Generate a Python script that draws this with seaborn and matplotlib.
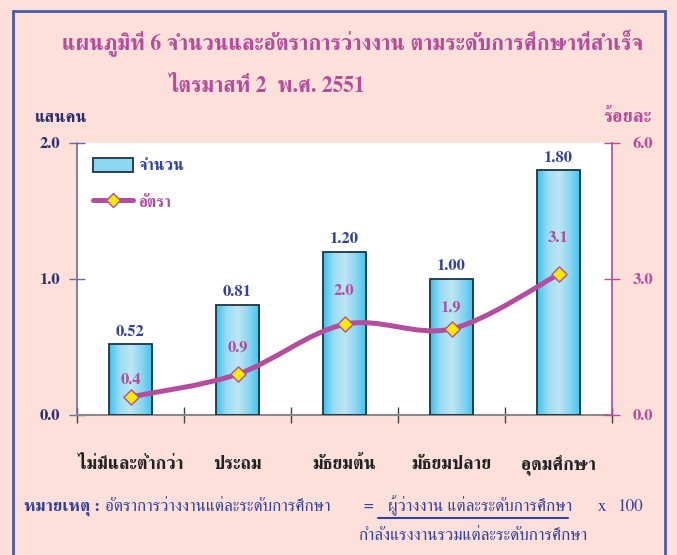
import numpy as np
import matplotlib
matplotlib.use('Agg')
import matplotlib.pyplot as plt
from matplotlib.colors import LinearSegmentedColormap
from matplotlib.path import Path
from matplotlib.patches import PathPatch, Rectangle
from matplotlib.lines import Line2D
import seaborn as sns

# data
levels = ['ไม่มีและต่ำกว่า', 'ประถม', 'มัธยมต้น', 'มัธยมปลาย', 'อุดมศึกษา']
unemployed = [0.52, 0.81, 1.20, 1.00, 1.80]   # แสนคน
rate = [0.4, 0.9, 2.0, 1.9, 3.1]              # ร้อยละ
left_ticks = [0.0, 1.0, 2.0]
right_ticks = [0.0, 3.0, 6.0]

title1 = 'แผนภูมิที่ 6 จำนวนและอัตราการว่างงาน ตามระดับการศึกษาที่สำเร็จ'
title2 = 'ไตรมาสที่ 2  พ.ศ. 2551'
note_head = 'หมายเหตุ :'
note_left = 'อัตราการว่างงานแต่ละระดับการศึกษา'
note_num = 'ผู้ว่างงาน แต่ละระดับการศึกษา'
note_den = 'กำลังแรงงานรวมแต่ละระดับการศึกษา'

NAVY = '#33429a'
DARKNAVY = '#2a2f6e'
PURPLE = '#b44d9d'
BG = '#fde0da'
W, H = 677, 555

sns.set_theme(style='white')
plt.rcParams['font.family'] = ['FreeSerif', 'Liberation Serif', 'DejaVu Sans']

fig, ax = plt.subplots(figsize=(W / 100, H / 100), dpi=100)
fig.patch.set_facecolor(BG)
renderer = fig.canvas.get_renderer()


def text_width(s, size, weight='normal'):
    t = fig.text(0, 0, s, fontsize=size, fontweight=weight)
    w = t.get_window_extent(renderer).width
    t.remove()
    return w


def fit_size(s, width_px, weight='normal'):
    return 10 * width_px / text_width(s, 10, weight)


def fx(px):
    return px / W


def fy(px):
    return 1 - px / H


pos = [fx(77), fy(415), fx(612) - fx(77), fy(143) - fy(415)]
ax.set_position(pos)
ax.set_facecolor('white')

sns.barplot(x=levels, y=unemployed, ax=ax, width=0.41, color='#8fd8f2', saturation=1,
            edgecolor='#1e3440', linewidth=1.3, zorder=3)

# gradient fill inside the bars
grad = np.linspace(0, 1, 256).reshape(1, -1)
cmap = LinearSegmentedColormap.from_list('bar', ['#3ec2ee', '#9ddcf2', '#bde6f3', '#8ad6f1', '#36c5f4'])
for p in ax.patches:
    x0, w, h = p.get_x(), p.get_width(), p.get_height()
    im = ax.imshow(grad, cmap=cmap, extent=[x0, x0 + w, 0, h], aspect='auto', zorder=2.5)
    im.set_clip_path(p)
    p.set_facecolor('none')

ax.set_xlim(-0.5, 4.5)
ax.set_ylim(0, 2)
ax.bar_label(ax.containers[0], labels=[f'{v:.2f}' for v in unemployed], padding=4,
             color=NAVY, fontsize=12, fontweight='bold')

ax.set_yticks(left_ticks)
ax.set_yticklabels([f'{v:.1f}' for v in left_ticks], fontweight='bold')
ax.tick_params(axis='y', direction='inout', length=12, width=1, color='#6a6aa0', pad=6,
               labelcolor=DARKNAVY, labelsize=12, left=True)

xfs = fit_size(levels[0], 106, 'bold')
ax.set_xticks(range(len(levels)))
ax.set_xticklabels(levels, fontweight='bold', color='#222222', fontsize=xfs, va='baseline')
ax.tick_params(axis='x', which='major', length=0, pad=39)
ax.set_xticks(np.arange(-0.5, len(levels), 1), minor=True)
ax.tick_params(axis='x', which='minor', direction='inout', length=12, width=1, color='#444444', bottom=True)
ax.set_xlabel('')
ax.set_ylabel('')
for s in ['top', 'right']:
    ax.spines[s].set_visible(False)
ax.spines['left'].set_color('#7070a8')
ax.spines['bottom'].set_color('#8a8a8a')
ax.spines['bottom'].set_linewidth(1.5)

# rate on the right axis, smoothed line
ax2 = ax.twinx()
ax2.set_position(pos)
ax2.set_xlim(-0.5, 4.5)
ax2.set_ylim(0, 6)
xs = np.arange(len(rate), dtype=float)
ys = np.asarray(rate, dtype=float)
verts = [(xs[0], ys[0])]
codes = [Path.MOVETO]
for i in range(len(xs) - 1):
    a = max(i - 1, 0)
    b = min(i + 2, len(xs) - 1)
    c1 = (xs[i] + (xs[i + 1] - xs[a]) / 6, ys[i] + (ys[i + 1] - ys[a]) / 6)
    c2 = (xs[i + 1] - (xs[b] - xs[i]) / 6, ys[i + 1] - (ys[b] - ys[i]) / 6)
    verts += [c1, c2, (xs[i + 1], ys[i + 1])]
    codes += [Path.CURVE4] * 3
ax2.add_patch(PathPatch(Path(verts, codes), facecolor='none', edgecolor=PURPLE, lw=3.6,
                        capstyle='round', zorder=3))
sns.scatterplot(x=xs, y=ys, ax=ax2, marker='D', s=60, color='#f7ea00', edgecolor=PURPLE,
                linewidth=1, zorder=4)
rate_dy = [12, 19, 24, 15, 26]
for i, v in enumerate(rate):
    ax2.annotate(f'{v:.1f}', (i, v), xytext=(0, rate_dy[i]), textcoords='offset points',
                 ha='center', va='center', color=PURPLE, fontsize=12, fontweight='bold')

ax2.set_yticks(right_ticks)
ax2.set_yticklabels([f'{v:.1f}' for v in right_ticks], fontweight='bold')
ax2.tick_params(axis='y', direction='inout', length=12, width=1, color=PURPLE, pad=9,
                labelcolor=PURPLE, labelsize=12, right=True)
for s in ['top', 'left', 'bottom']:
    ax2.spines[s].set_visible(False)
ax2.spines['right'].set_color(PURPLE)

# legend
lfs = fit_size('จำนวน', 46, 'bold')
lpx = lfs * 100 / 72
handles = [Rectangle((0, 0), 1, 1, facecolor='#8ed7f2', edgecolor='#1e3440', lw=1.3),
           Line2D([0], [0], color=PURPLE, lw=3.6, marker='D', markersize=7,
                  markerfacecolor='#f7ea00', markeredgecolor=PURPLE)]
leg = ax2.legend(handles, ['จำนวน', 'อัตรา'], loc='upper left', bbox_to_anchor=(0.03, 0.945),
                 frameon=False, fontsize=lfs, handlelength=40 / lpx, handleheight=15 / lpx,
                 handletextpad=5 / lpx, labelspacing=(37 - lpx) / lpx, borderaxespad=0, borderpad=0)
for t, c in zip(leg.get_texts(), [NAVY, PURPLE]):
    t.set_color(c)
    t.set_fontweight('bold')

# frame and texts
fig.patches.append(Rectangle((fx(13), -0.05), fx(652), 1.03, transform=fig.transFigure,
                             fill=False, edgecolor='#4a5aa8', lw=2))
fig.text(fx(62), fy(50), title1, ha='left', va='baseline', color=PURPLE,
         fontsize=fit_size(title1, 580, 'bold'), fontweight='bold')
fig.text(fx(168), fy(92), title2, ha='left', va='baseline', color=PURPLE,
         fontsize=fit_size(title2, 197, 'bold'), fontweight='bold')
fig.text(fx(35), fy(122), 'แสนคน', ha='left', va='baseline', color=DARKNAVY,
         fontsize=fit_size('แสนคน', 52, 'bold'), fontweight='bold')
fig.text(fx(652), fy(122), 'ร้อยละ', ha='right', va='baseline', color=PURPLE,
         fontsize=fit_size('ร้อยละ', 48, 'bold'), fontweight='bold')

nfs = fit_size(note_left, 227)
head_w = text_width(note_head, nfs, 'bold')
fig.text(fx(24), fy(511), note_head, ha='left', va='baseline', color=NAVY,
         fontsize=nfs, fontweight='bold')
fig.text(fx(max(98, 24 + head_w + 5)), fy(511), note_left, ha='left', va='baseline',
         color=NAVY, fontsize=nfs)
fig.text(fx(363), fy(511), '=', ha='left', va='baseline', color=NAVY, fontsize=nfs)
fig.text(fx(388), fy(511), note_num, ha='left', va='baseline', color=NAVY, fontsize=nfs)
fig.text(fx(598), fy(511), 'x', ha='left', va='baseline', color=NAVY, fontsize=nfs)
fig.text(fx(617), fy(511), '100', ha='left', va='baseline', color=NAVY, fontsize=nfs)
fig.lines.append(Line2D([fx(378), fx(568)], [fy(518), fy(518)], transform=fig.transFigure,
                        color=NAVY, lw=1.5))
fig.text(fx(358), fy(540), note_den, ha='left', va='baseline', color=NAVY, fontsize=nfs)

fig.savefig('out.png', dpi=100, facecolor=BG)
